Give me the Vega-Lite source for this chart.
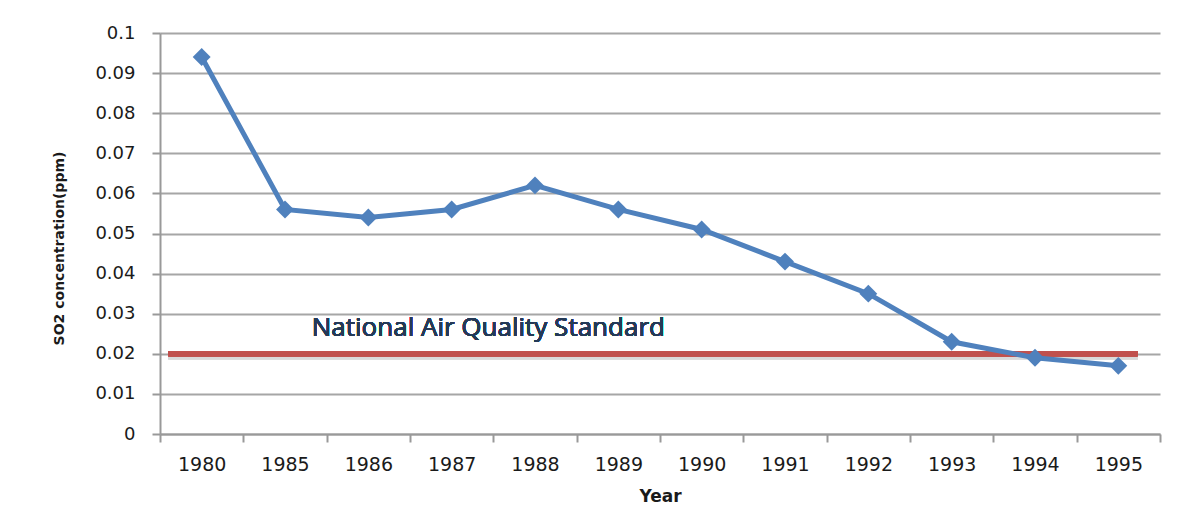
{
  "$schema": "https://vega.github.io/schema/vega-lite/v6.json",
  "autosize": {"type": "none"},
  "width": 1000,
  "height": 401,
  "padding": {"left": 160, "top": 33, "right": 23, "bottom": 97},
  "background": "white",
  "config": {
    "view": {"stroke": null},
    "font": "DejaVu Sans"
  },
  "data": {
    "values": [
      {"Year": "1980", "SO2": 0.094},
      {"Year": "1985", "SO2": 0.056},
      {"Year": "1986", "SO2": 0.054},
      {"Year": "1987", "SO2": 0.056},
      {"Year": "1988", "SO2": 0.062},
      {"Year": "1989", "SO2": 0.056},
      {"Year": "1990", "SO2": 0.051},
      {"Year": "1991", "SO2": 0.043},
      {"Year": "1992", "SO2": 0.035},
      {"Year": "1993", "SO2": 0.023},
      {"Year": "1994", "SO2": 0.019},
      {"Year": "1995", "SO2": 0.017}
    ]
  },
  "encoding": {
    "x": {
      "field": "Year",
      "type": "ordinal",
      "sort": null,
      "scale": {
        "domain": ["1980", "1985", "1986", "1987", "1988", "1989", "1990", "1991", "1992", "1993", "1994", "1995"],
        "paddingInner": 0,
        "paddingOuter": 0
      },
      "axis": {
        "title": "Year",
        "titleFont": "DejaVu Sans",
        "titleFontSize": 17,
        "titleFontWeight": "bold",
        "titleColor": "#1a1a1a",
        "titlePadding": 14,
        "labelAngle": 0,
        "labelFont": "DejaVu Sans",
        "labelFontSize": 19,
        "labelColor": "#1a1a1a",
        "labelPadding": 13,
        "tickBand": "extent",
        "tickSize": 8,
        "tickColor": "#999999",
        "tickWidth": 2,
        "domainColor": "#999999",
        "domainWidth": 2,
        "grid": false
      }
    },
    "y": {
      "field": "SO2",
      "type": "quantitative",
      "scale": {"domain": [0, 0.1], "nice": false},
      "axis": {
        "title": "SO2 concentration(ppm)",
        "titleFont": "DejaVu Sans",
        "titleFontSize": 14,
        "titleFontWeight": "bold",
        "titleColor": "#1a1a1a",
        "titleX": -94,
        "titleY": 215,
        "values": [0, 0.01, 0.02, 0.03, 0.04, 0.05, 0.06, 0.07, 0.08, 0.09, 0.1],
        "labelExpr": "format(datum.value, '.2~f')",
        "labelFont": "DejaVu Sans",
        "labelFontSize": 18,
        "labelColor": "#1a1a1a",
        "labelPadding": 17,
        "tickSize": 8,
        "tickColor": "#999999",
        "tickWidth": 2,
        "domainColor": "#999999",
        "domainWidth": 2,
        "grid": true,
        "gridColor": "#a6a6a6",
        "gridWidth": 2
      }
    }
  },
  "layer": [
    {
      "mark": {"type": "rule", "color": "#d9d9d9", "strokeWidth": 5, "yOffset": 3},
      "encoding": {
        "x": {"datum": "1980", "bandPosition": 0.1},
        "x2": {"datum": "1995", "bandPosition": 0.73},
        "y": {"datum": 0.02}
      }
    },
    {
      "mark": {"type": "rule", "color": "#c0504d", "strokeWidth": 5},
      "encoding": {
        "x": {"datum": "1980", "bandPosition": 0.1},
        "x2": {"datum": "1995", "bandPosition": 0.73},
        "y": {"datum": 0.02}
      }
    },
    {
      "mark": {"type": "line", "color": "#4f81bd", "strokeWidth": 5}
    },
    {
      "mark": {"type": "point", "shape": "diamond", "filled": true, "color": "#4f81bd", "size": 320, "opacity": 1}
    },
    {
      "mark": {"type": "text", "text": "National Air Quality Standard", "font": "Open Sans", "fontSize": 26, "color": "#243a57", "align": "center", "baseline": "middle"},
      "encoding": {
        "x": {"datum": "1987", "bandPosition": 0.94},
        "y": {"datum": 0.0265}
      }
    }
  ]
}
